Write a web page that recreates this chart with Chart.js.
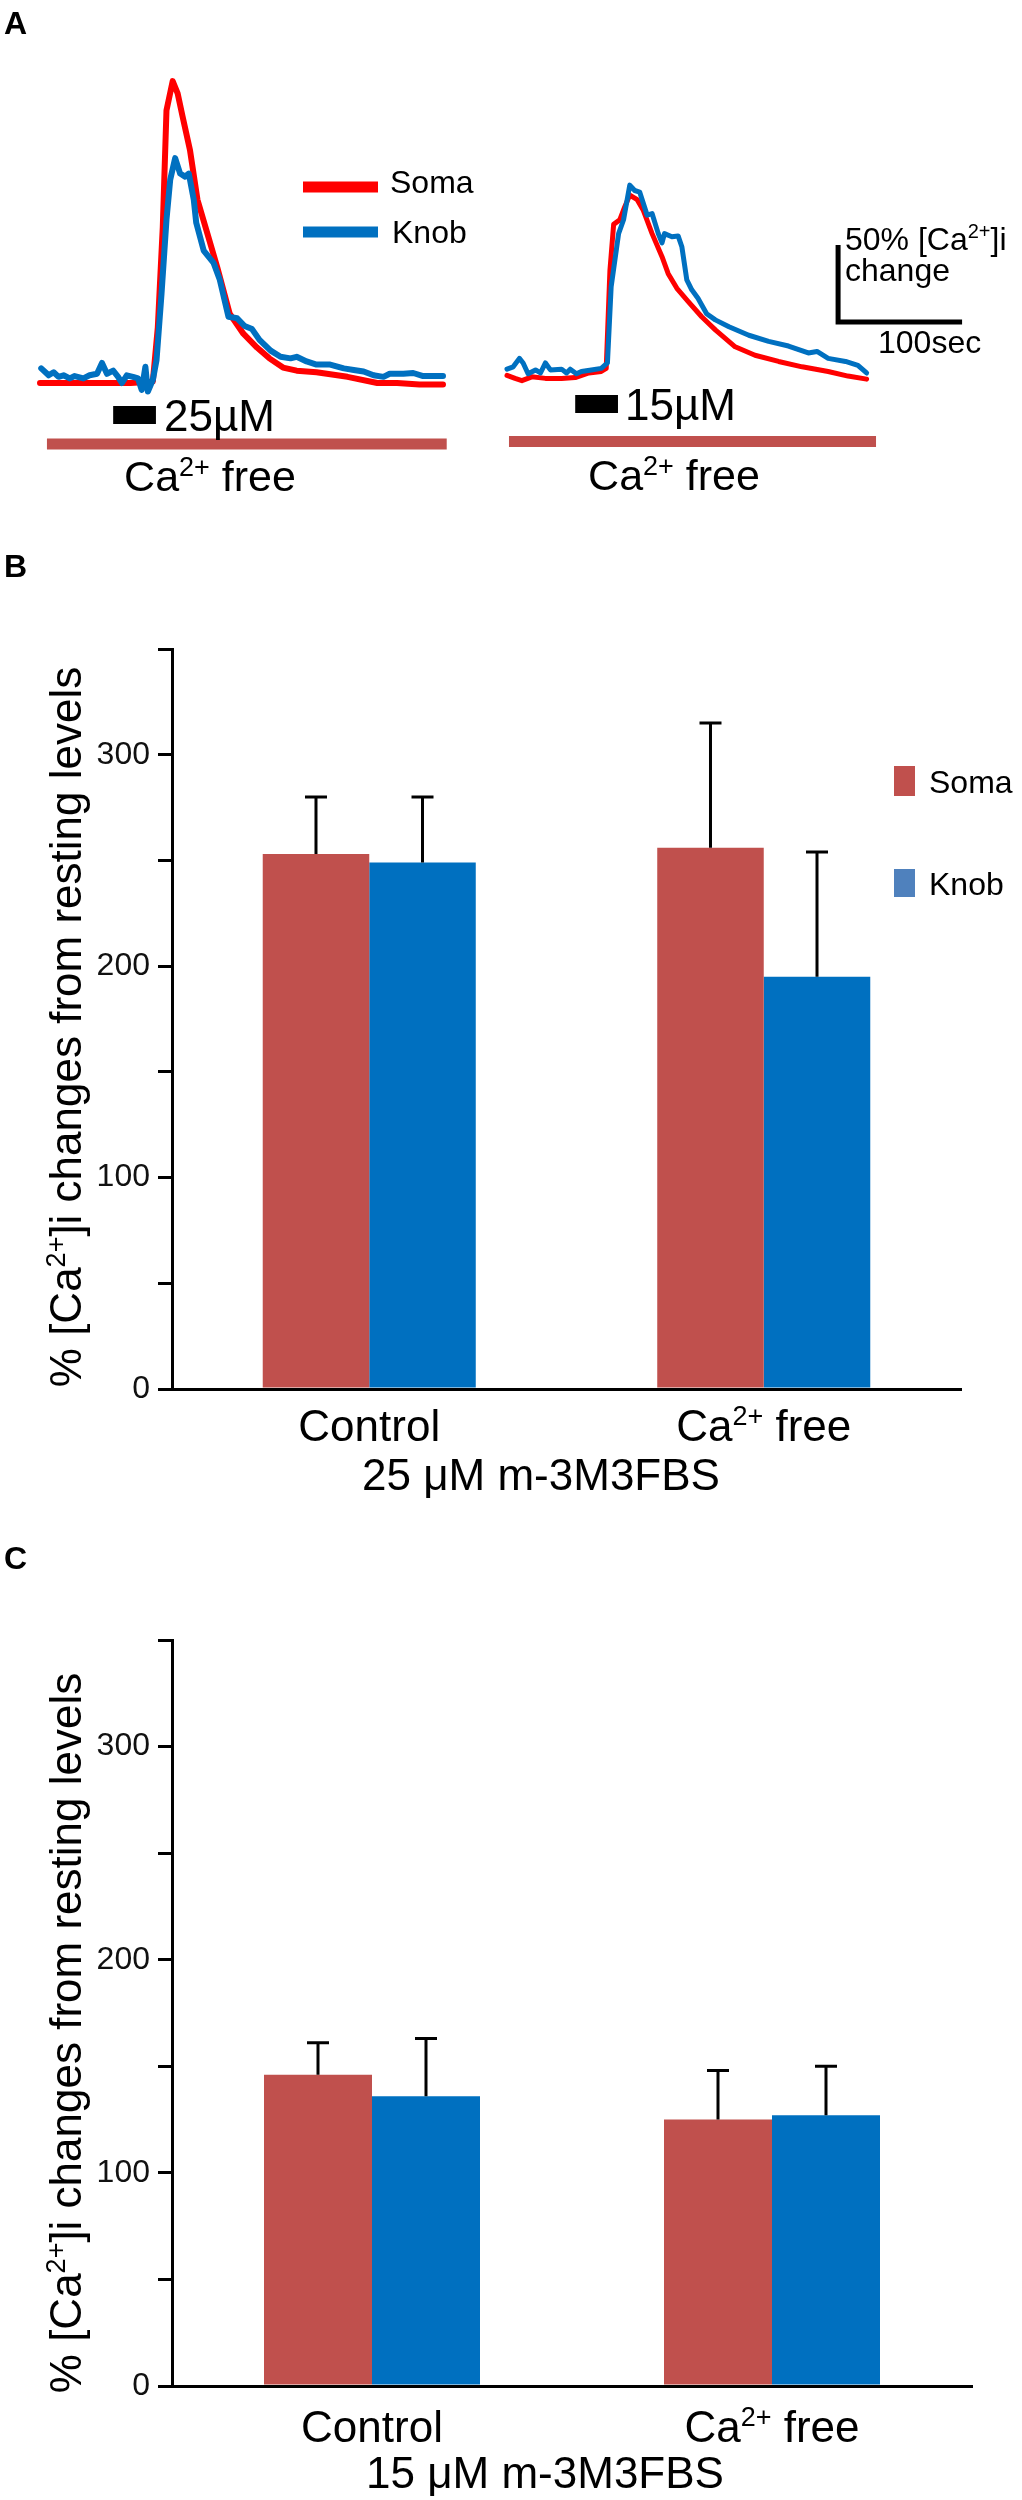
<!DOCTYPE html>
<html>
<head>
<meta charset="utf-8">
<title>m-3M3FBS calcium responses</title>
<script src="https://cdn.jsdelivr.net/npm/chart.js@4.4.1/dist/chart.umd.min.js"></script>
<style>
  body { margin: 0; background: #fff; }
  .page { position: relative; width: 1022px; height: 2500px; }
  .page canvas { position: absolute; left: 0; }
</style>
</head>
<body>
<div class="page">
  <canvas id="traceChart" style="top:0px" width="1022" height="520"></canvas>
  <canvas id="barChartB" style="top:540px" width="1022" height="980"></canvas>
  <canvas id="barChartC" style="top:1540px" width="1022" height="960"></canvas>
</div>
<script>
// ---- panel A: example traces, time (sec) and % [Ca2+]i change ----
var somaT25 = [0, 19, 46, 73, 91, 95, 99, 102, 107, 111, 115, 121, 127, 135, 143, 153, 164, 175, 185, 196, 207, 223, 248, 272, 288, 306, 325];
var somaV25 = [0, 0, 0, 0, 1, 36, 101, 177, 196, 188, 173, 151, 119, 97, 75, 45, 32, 23, 16, 10, 8, 7, 4, 0, 0, -1, -1];
var knobT25 = [1, 7, 11, 15, 19, 24, 28, 35, 40, 46, 50, 54, 59, 63, 66, 70, 75, 79, 82, 85, 87, 91, 94, 98, 102, 105, 109, 113, 117, 120, 124, 126, 132, 140, 145, 152, 159, 165, 171, 177, 186, 194, 202, 207, 215, 223, 234, 245, 253, 261, 269, 277, 282, 293, 301, 309, 317, 325];
var knobV25 = [9.5, 5, 7, 4, 5, 3, 4.5, 3, 5, 6, 13, 6, 8, 4, 0, 5, 4, 3, -4.5, 10.5, -5.5, 2, 15, 58, 106, 132, 146, 136, 134, 136, 119, 104, 86, 78, 67, 43, 42, 37, 35, 28, 21, 17, 16, 17, 14, 12, 12, 9.5, 8.5, 7.5, 5, 4, 6, 6, 6.5, 4.5, 4.5, 4.5];

var somaT15 = [0, 6.5, 12, 20, 31, 44, 55, 66, 76, 80, 83, 86, 91, 95, 99, 105, 110, 117, 125, 130, 137, 146, 157, 168, 184, 200, 219, 238, 259, 275, 290];
var somaV15 = [5, 3, 1.5, 4, 3, 3, 3.5, 6.5, 7.5, 9.5, 73, 103, 106, 114.5, 122, 119, 112, 97, 82, 71, 61.5, 53, 43, 34.5, 23.5, 18, 14, 10.5, 7.5, 4.5, 2.5];
var knobT15 = [0, 5, 10, 13, 17, 23, 27, 31, 35, 44, 48, 51, 56, 60, 68, 76, 81, 84, 90, 94, 99, 103, 107, 113, 117, 122, 125, 127, 133, 138, 141, 145, 149, 154, 161, 168, 179, 195, 211, 227, 243, 250, 259, 273, 283, 290];
var knobV15 = [9, 10.5, 16, 13, 6, 8.5, 6.5, 13, 8.5, 9, 6.5, 9, 6, 7.5, 8.5, 9.5, 13, 62.5, 97, 106, 128.5, 125, 124, 109, 110, 97, 91, 97, 95, 95.5, 88.5, 67, 60.5, 55, 45, 41, 36.5, 31, 27, 24, 19.5, 20.5, 16, 14, 11.5, 6.5];

// application periods (sec)
var drug25 = [59, 93.5];
var caFree25 = [5.6, 328];
var drug15 = [55, 89.5];
var caFree15 = [1.6, 297.6];
// scale bar: 100 sec x 50 %
var scaleBarT = [267, 267, 367];
var scaleBarV = [89.6, 39.6, 39.6];

// ---- panels B and C: mean % change and SEM ----
var groups = ['Control', 'Ca2+ free'];
var somaB = [253, 256];
var somaErrB = [27, 59];
var knobB = [249, 195];
var knobErrB = [31, 59];
var somaC = [146, 125];
var somaErrC = [15, 23];
var knobC = [136, 127];
var knobErrC = [27, 23];
var yTicks = [0, 100, 200, 300];

var FONT = '"Liberation Sans", Arial, Helvetica, sans-serif';

// draws text; parts given as {up: '..'} are raised and smaller
function richText(ctx, parts, x, y, size, align) {
  var supSize = Math.round(size * 0.62);
  var isUp = function (p) { return typeof p !== 'string'; };
  var txt = function (p) { return isUp(p) ? p.up : p; };
  var widths = parts.map(function (p) {
    ctx.font = (isUp(p) ? supSize : size) + 'px ' + FONT;
    return ctx.measureText(txt(p)).width;
  });
  var total = widths.reduce(function (a, b) { return a + b; }, 0);
  var cx = align === 'center' ? x - total / 2 : (align === 'right' ? x - total : x);
  ctx.textAlign = 'left';
  ctx.textBaseline = 'alphabetic';
  parts.forEach(function (p, i) {
    ctx.font = (isUp(p) ? supSize : size) + 'px ' + FONT;
    ctx.fillText(txt(p), cx, isUp(p) ? y - size * 0.36 : y);
    cx += widths[i];
  });
}

function pts(ts, vs) {
  return ts.map(function (t, i) { return { x: t, y: vs[i] }; });
}

function segment(range, level) {
  return [{ x: range[0], y: level }, { x: range[1], y: level }];
}

// ---- panel A ----
var traceText = {
  id: 'traceText',
  afterDraw: function (chart) {
    var ctx = chart.ctx;
    ctx.save();
    ctx.fillStyle = '#000';
    ctx.font = 'bold 32px ' + FONT;
    ctx.textBaseline = 'alphabetic';
    ctx.fillText('A', 4, 34);

    // legend
    ctx.lineWidth = 11;
    ctx.strokeStyle = '#FF0000';
    ctx.beginPath(); ctx.moveTo(303, 187); ctx.lineTo(378, 187); ctx.stroke();
    ctx.strokeStyle = '#0070C0';
    ctx.beginPath(); ctx.moveTo(303, 232); ctx.lineTo(378, 232); ctx.stroke();
    richText(ctx, ['Soma'], 390, 193, 32, 'left');
    richText(ctx, ['Knob'], 392, 243, 32, 'left');

    var xL = chart.scales.xL, xR = chart.scales.xR;
    richText(ctx, ['25\u00B5M'], xL.getPixelForValue(drug25[1]) + 8, 431, 44, 'left');
    richText(ctx, ['Ca', { up: '2+' }, ' free'], 210, 491, 43, 'center');
    richText(ctx, ['15\u00B5M'], xR.getPixelForValue(drug15[1]) + 7, 420, 44, 'left');
    richText(ctx, ['Ca', { up: '2+' }, ' free'], 674, 490, 43, 'center');

    // scale bar labels
    richText(ctx, ['50% [Ca', { up: '2+' }, ']i'], 845, 250, 32, 'left');
    richText(ctx, ['change'], 845, 281, 32, 'left');
    richText(ctx, ['100sec'], 878, 353, 32, 'left');
    ctx.restore();
  }
};

function traceSet(data, color, axis, width, order) {
  return {
    data: data, xAxisID: axis, borderColor: color, borderWidth: width,
    pointRadius: 0, tension: 0, fill: false, order: order,
    borderJoinStyle: 'round', borderCapStyle: 'round'
  };
}

function markSet(data, color, axis, width) {
  return {
    data: data, xAxisID: axis, borderColor: color, borderWidth: width,
    pointRadius: 0, tension: 0, fill: false, order: 0,
    borderCapStyle: 'butt', borderJoinStyle: 'miter'
  };
}

new Chart(document.getElementById('traceChart'), {
  type: 'line',
  data: {
    datasets: [
      traceSet(pts(somaT25, somaV25), '#FF0000', 'xL', 6, 2),
      traceSet(pts(knobT25, knobV25), '#0070C0', 'xL', 6, 1),
      traceSet(pts(somaT15, somaV15), '#FF0000', 'xR', 5, 2),
      traceSet(pts(knobT15, knobV15), '#0070C0', 'xR', 5, 1),
      markSet(segment(drug25, -20.8), '#000', 'xL', 18),
      markSet(segment(caFree25, -39.6), '#C0504D', 'xL', 11),
      markSet(segment(drug15, -13.6), '#000', 'xR', 18),
      markSet(segment(caFree15, -38), '#C0504D', 'xR', 11),
      markSet(pts(scaleBarT, scaleBarV), '#000', 'xR', 5)
    ]
  },
  options: {
    responsive: false,
    animation: false,
    layout: { padding: 0 },
    plugins: { legend: { display: false }, tooltip: { enabled: false } },
    scales: {
      xL: { type: 'linear', display: false, min: -32.26, max: 791.94 },
      xR: { type: 'linear', display: false, min: -408.87, max: 415.32 },
      y: { type: 'linear', display: false, min: -88.96, max: 248.7 }
    }
  },
  plugins: [traceText]
});

// ---- panels B and C ----
var errorBars = {
  id: 'errorBars',
  afterDatasetsDraw: function (chart) {
    var ctx = chart.ctx, y = chart.scales.y;
    ctx.save();
    ctx.strokeStyle = '#000';
    ctx.lineWidth = 3;
    chart.data.datasets.forEach(function (ds, i) {
      chart.getDatasetMeta(i).data.forEach(function (bar, j) {
        var top = y.getPixelForValue(ds.data[j] + ds.errors[j]);
        ctx.beginPath();
        ctx.moveTo(bar.x, bar.y);
        ctx.lineTo(bar.x, top);
        ctx.moveTo(bar.x - 11, top);
        ctx.lineTo(bar.x + 11, top);
        ctx.stroke();
      });
    });
    ctx.restore();
  }
};

function barText(cfg) {
  return {
    id: 'barText',
    afterDraw: function (chart) {
      var ctx = chart.ctx, x = chart.scales.x;
      ctx.save();
      ctx.fillStyle = '#000';
      ctx.font = 'bold 32px ' + FONT;
      ctx.textAlign = 'left';
      ctx.textBaseline = 'alphabetic';
      ctx.fillText(cfg.letter, 4, cfg.letterY);

      // category labels
      richText(ctx, ['Control'], x.getPixelForValue(0), cfg.labelY, 44, 'center');
      richText(ctx, ['Ca', { up: '2+' }, ' free'], x.getPixelForValue(1), cfg.labelY, 44, 'center');
      richText(ctx, [cfg.sub], cfg.subX, cfg.subY, 44, 'center');

      // y axis title
      ctx.save();
      ctx.translate(81, cfg.titleY);
      ctx.rotate(-Math.PI / 2);
      richText(ctx, ['% [Ca', { up: '2+' }, ']i changes from resting levels'], 0, 0, 44, 'center');
      ctx.restore();

      if (cfg.legend) {
        ctx.fillStyle = '#C0504D';
        ctx.fillRect(894, 226, 21, 30);
        ctx.fillStyle = '#4F81BD';
        ctx.fillRect(894, 329, 21, 28);
        ctx.fillStyle = '#000';
        richText(ctx, ['Soma'], 929, 253, 32, 'left');
        richText(ctx, ['Knob'], 929, 355, 32, 'left');
      }
      ctx.restore();
    }
  };
}

function makeBarChart(id, soma, somaErr, knob, knobErr, cfg) {
  return new Chart(document.getElementById(id), {
    type: 'bar',
    data: {
      labels: groups,
      datasets: [
        { label: 'Soma', data: soma, errors: somaErr, backgroundColor: '#C0504D', borderWidth: 0 },
        { label: 'Knob', data: knob, errors: knobErr, backgroundColor: '#0070C0', borderWidth: 0 }
      ]
    },
    options: {
      responsive: false,
      animation: false,
      layout: { padding: { top: cfg.top, right: cfg.right, bottom: 0, left: 0 } },
      datasets: { bar: { barPercentage: 1, categoryPercentage: 0.54 } },
      plugins: { legend: { display: false }, tooltip: { enabled: false } },
      scales: {
        x: {
          grid: { display: false },
          border: { display: true, color: '#000', width: 3 },
          ticks: { display: false },
          afterFit: function (s) { s.height = cfg.xh; }
        },
        y: {
          min: 0,
          max: 350,
          grid: { drawOnChartArea: false, color: '#000', lineWidth: 3, tickLength: 14 },
          border: { display: true, color: '#000', width: 3 },
          ticks: {
            stepSize: 50,
            padding: 8,
            color: '#111',
            font: { family: FONT, size: 32 },
            callback: function (v) { return yTicks.indexOf(v) >= 0 ? String(v) : ''; }
          },
          afterFit: function (s) { s.width = 172; }
        }
      }
    },
    plugins: [errorBars, barText(cfg)]
  });
}

makeBarChart('barChartB', somaB, somaErrB, knobB, knobErrB, {
  top: 109, right: 61, xh: 131, letter: 'B', letterY: 37, titleY: 487,
  labelY: 901, sub: '25 \u03BCM m-3M3FBS', subX: 541, subY: 950, legend: true
});

makeBarChart('barChartC', somaC, somaErrC, knobC, knobErrC, {
  top: 100, right: 50, xh: 114, letter: 'C', letterY: 29, titleY: 493,
  labelY: 902, sub: '15 \u03BCM m-3M3FBS', subX: 545, subY: 948, legend: false
});
</script>
</body>
</html>
